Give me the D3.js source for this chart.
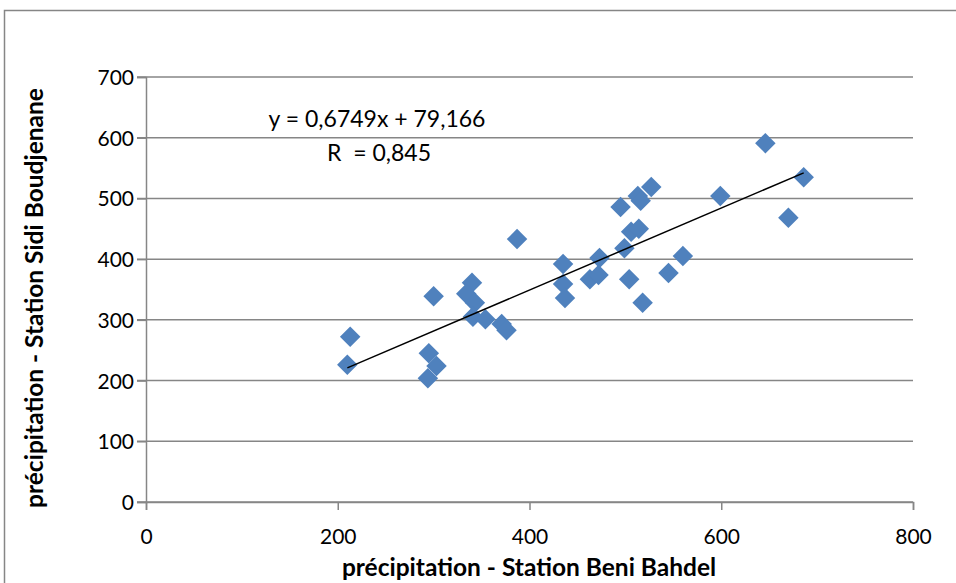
<!DOCTYPE html>
<html><head><meta charset="utf-8">
<script src="https://cdn.jsdelivr.net/npm/d3@7"></script>
<style>body{margin:0;background:#fff}svg{display:block}</style>
</head><body><svg id="c" width="956" height="583"></svg>
<script>
const beniBahdel = [210,213,294,295,303,300,340,334,343,341,354,371,376,387,435,435,437,463,472,473,495,499,504,506,514,513,516,527,518,545,560,599,646,670,686];
const sidiBoudjenane = [226,272,204,245,224,339,361,343,328,305,301,293,283,433,392,359,336,367,374,402,486,418,367,445,450,504,496,519,328,377,405,504,591,468,535];
const xTicks = [0,200,400,600,800];
const yTicks = [0,100,200,300,400,500,600,700];
const slope = 0.6749, intercept = 79.166;
const eqLabel = "y = 0,6749x + 79,166";
const rLabel = "R  = 0,845";
const xTitle = "précipitation - Station Beni Bahdel";
const yTitle = "précipitation - Station Sidi Boudjenane";

const svg = d3.select("#c");
const font = "Lato, 'Open Sans', sans-serif";
const grey = "#868686";
svg.append("rect").attr("x",4.5).attr("y",10.5).attr("width",1000).attr("height",700)
  .attr("fill","none").attr("stroke",grey).attr("stroke-width",1.5);

const x = d3.scaleLinear().domain([0,800]).range([146,913]);
const y = d3.scaleLinear().domain([0,700]).range([502,77]);

svg.append("g").selectAll("line").data(yTicks).join("line")
  .attr("x1",137).attr("x2",x(800)).attr("y1",d=>y(d)).attr("y2",d=>y(d))
  .attr("stroke",grey).attr("stroke-width",1.5);
const ya = svg.append("g").attr("transform",`translate(${x(0)},0)`)
  .call(d3.axisLeft(y).tickValues(yTicks).tickSize(9).tickPadding(3));
ya.select(".domain").attr("stroke",grey).attr("stroke-width",1.5);
ya.selectAll(".tick line").attr("stroke",grey).attr("stroke-width",1.5);
ya.selectAll("text").attr("font-family",font).attr("font-size",21).attr("fill","#000").attr("dy","0.36em");
const xa = svg.append("g").attr("transform",`translate(0,${y(0)})`)
  .call(d3.axisBottom(x).tickValues(xTicks).tickSize(8).tickPadding(19));
xa.select(".domain").attr("stroke",grey).attr("stroke-width",1.5);
xa.selectAll(".tick line").attr("stroke",grey).attr("stroke-width",1.5);
xa.selectAll("text").attr("font-family",font).attr("font-size",21).attr("fill","#000");

const pts = beniBahdel.map((v,i)=>[v,sidiBoudjenane[i]]);
svg.append("g").selectAll("path").data(pts).join("path")
  .attr("d",d3.symbol(d3.symbolSquare, 210))
  .attr("transform",d=>`translate(${x(d[0])},${y(d[1])}) rotate(45)`)
  .attr("fill","#4F81BD");

const xe = d3.extent(beniBahdel);
svg.append("line").attr("x1",x(xe[0])).attr("y1",y(slope*xe[0]+intercept))
  .attr("x2",x(xe[1])).attr("y2",y(slope*xe[1]+intercept))
  .attr("stroke","#000").attr("stroke-width",1.5);

svg.append("text").attr("x",377).attr("y",127).attr("text-anchor","middle")
  .attr("font-family",font).attr("font-size",23).text(eqLabel);
svg.append("text").attr("x",379).attr("y",161).attr("text-anchor","middle")
  .attr("font-family",font).attr("font-size",23).style("white-space","pre").text(rLabel);

svg.append("text").attr("x",529).attr("y",576).attr("text-anchor","middle")
  .attr("font-family",font).attr("font-size",24.5).attr("font-weight","bold").text(xTitle);
svg.append("text").attr("transform","translate(43,298) rotate(-90)").attr("text-anchor","middle")
  .attr("font-family",font).attr("font-size",24.5).attr("font-weight","bold").text(yTitle);
</script></body></html>
